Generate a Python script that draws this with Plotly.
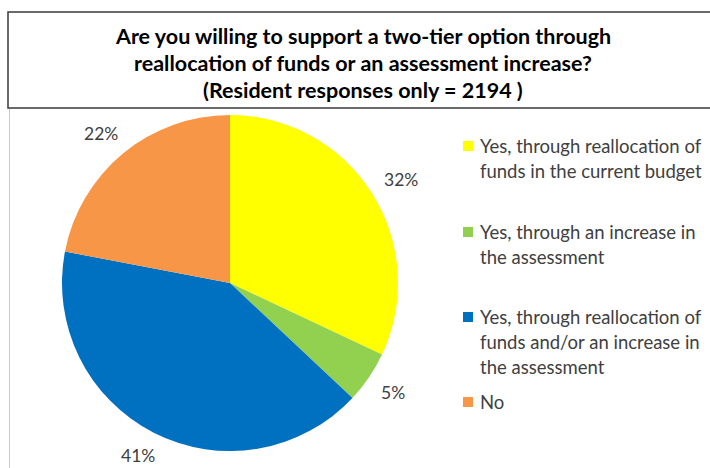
import math
import plotly.graph_objects as go

# Survey answers (resident responses only)
categories = [
    "Yes, through reallocation of funds in the current budget",
    "Yes, through an increase in the assessment",
    "Yes, through reallocation of funds and/or an increase in the assessment",
    "No",
]
legend_lines = [
    ["Yes, through reallocation of", "funds in the current budget"],
    ["Yes, through an increase in", "the assessment"],
    ["Yes, through reallocation of", "funds and/or an increase in", "the assessment"],
    ["No"],
]
shares = [32, 5, 41, 22]
slice_colors = ["#FFFF00", "#92D050", "#0070C0", "#F79646"]
title_lines = [
    "Are you willing to support a two-tier option through",
    "reallocation of funds or an assessment increase?",
    "(Resident responses only = 2194 )",
]

W, H = 710, 468
FONT = "Lato, Carlito, Calibri, sans-serif"
TEXT_GREY = "#404040"


def px(x):
    return x / W


def py(y):
    return 1 - y / H


# pie geometry in pixels
cx, cy, r = 230, 283, 168

fig = go.Figure(
    go.Pie(
        labels=categories,
        values=shares,
        sort=False,
        direction="clockwise",
        rotation=0,
        marker=dict(colors=slice_colors, line=dict(width=0)),
        textinfo="none",
        hoverinfo="label+percent",
        showlegend=False,
        domain=dict(x=[px(cx - r), px(cx + r)], y=[py(cy + r), py(cy - r)]),
    )
)

annotations = []
shapes = []

# percentage labels outside each slice: anchor on a ring at the slice's
# mid angle, then pushed outward by half the label box so it clears the pie
total = sum(shares)
start = 0.0
ring = 186
label_size = 17.5
for v in shares:
    mid = (start + v / 2) / total * 2 * math.pi
    start += v
    text = f"{round(v / total * 100)}%"
    half_w = len(text) * 0.32 * label_size
    half_h = 8
    s, c = math.sin(mid), math.cos(mid)
    lx = cx + ring * s + half_w * s
    ly = cy - ring * c - half_h * c
    annotations.append(dict(
        x=px(lx), y=py(ly), xref="paper", yref="paper",
        text=text, showarrow=False,
        xanchor="center", yanchor="middle",
        font=dict(family=FONT, size=label_size, color=TEXT_GREY),
    ))

# title, one annotation per line
for i, line in enumerate(title_lines):
    annotations.append(dict(
        x=px(363), y=py(36 + 27 * i), xref="paper", yref="paper",
        text=f"<b>{line}</b>", showarrow=False,
        xanchor="center", yanchor="middle",
        font=dict(family=FONT, size=21.5, color="#000000"),
    ))

# title box and chart-area edge
shapes.append(dict(type="rect", xref="paper", yref="paper",
                   x0=px(8), x1=px(W + 10), y0=py(108), y1=py(12),
                   line=dict(color="#3a3a3a", width=1.5)))
shapes.append(dict(type="line", xref="paper", yref="paper",
                   x0=px(9.5), x1=px(9.5), y0=py(109), y1=py(H + 5),
                   line=dict(color="#c8c8c8", width=1)))

# legend: colour swatch plus wrapped text lines
item_tops = [146, 232, 317, 402]
line_gap = 25
for lines, color, top in zip(legend_lines, slice_colors, item_tops):
    shapes.append(dict(type="rect", xref="paper", yref="paper",
                       x0=px(463), x1=px(473), y0=py(top + 5), y1=py(top - 5),
                       fillcolor=color, line=dict(width=0)))
    for j, txt in enumerate(lines):
        annotations.append(dict(
            x=px(478), y=py(top + line_gap * j), xref="paper", yref="paper",
            text=txt, showarrow=False, xanchor="left", yanchor="middle",
            font=dict(family=FONT, size=18.5, color=TEXT_GREY),
        ))

fig.update_layout(
    width=W, height=H, autosize=False,
    margin=dict(l=0, r=0, t=0, b=0),
    paper_bgcolor="white", plot_bgcolor="white",
    annotations=annotations, shapes=shapes,
    font=dict(family=FONT),
)

fig.write_html("out.html", config={"displayModeBar": False})
